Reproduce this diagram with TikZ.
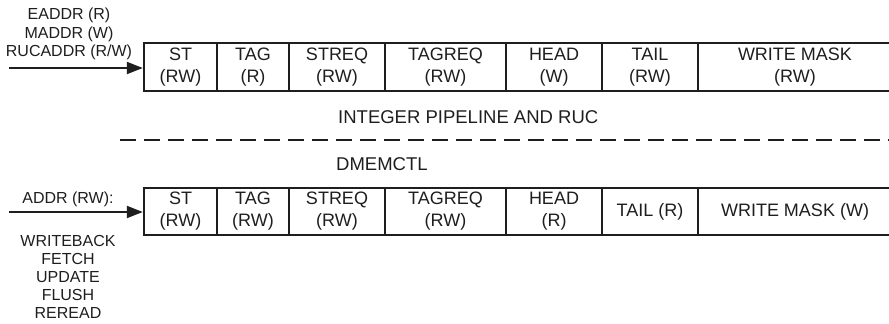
\documentclass[tikz,border=0pt]{standalone}
\usepackage{fontspec}
\setmainfont{Liberation Sans}
\usetikzlibrary{arrows.meta,calc,positioning}
\definecolor{rucInk}{HTML}{1E1E1E}
\tikzset{
 regmap/.style={line join=miter,text=rucInk},
 field/.style={rectangle,draw=rucInk,line width=2.4pt,inner sep=0pt,minimum height=48pt,
   align=center,font=\fontsize{18}{22}\selectfont},
 portlist/.style={align=center,inner sep=0pt,font=\fontsize{16}{18.5}\selectfont},
 sidetitle/.style={anchor=west,inner sep=0pt,font=\fontsize{18.5}{22}\selectfont},
 portarrow/.style={draw=rucInk,line width=2pt,-{Triangle[length=16pt,width=12pt]}},
 divider/.style={draw=rucInk,line width=2.6pt,dash pattern=on 16pt off 8pt}
}
\begin{document}
\begin{tikzpicture}[regmap,x=1pt,y=-1pt]
 \useasboundingbox (0,0) rectangle (889,324);
 % upper register, seen from the pipeline
 \foreach \n/\xa/\w/\txt in {1/144/73/{ST\\(RW)},2/217/72/{TAG\\(R)},3/289/96/{STREQ\\(RW)},
   4/385/121/{TAGREQ\\(RW)},5/506/96/{HEAD\\(W)},6/602/96/{TAIL\\(RW)},7/698/194/{WRITE MASK\\(RW)}}
   {\node[field,minimum width=\w pt] (t\n) at (\xa+\w/2,67) {\txt};}
 \node[portlist] (topports) at (69,34) {EADDR (R)\\MADDR (W)\\RUCADDR (R/W)};
 \coordinate (topin) at (9,68);
 \draw[portarrow] (topin) -- (topin -| t1.west);
 % boundary between the two sides
 \node[sidetitle] (pipe) at (338,117) {INTEGER PIPELINE AND RUC};
 \coordinate (cutL) at (120,140);
 \coordinate (cutR) at (892,140);
 \draw[divider] (cutL) -- (cutR);
 \node[sidetitle] (dmem) at (336,164) {DMEMCTL};
 % lower register, seen from DMEMCTL
 \foreach \n/\xa/\w/\txt in {1/144/73/{ST\\(RW)},2/217/72/{TAG\\(RW)},3/289/96/{STREQ\\(RW)},
   4/385/121/{TAGREQ\\(RW)},5/506/96/{HEAD\\(R)},6/602/96/{TAIL (R)},7/698/194/{WRITE MASK (W)}}
   {\node[field,minimum width=\w pt,minimum height=47pt] (b\n) at (\xa+\w/2,211.5) {\txt};}
 \node[portlist] (addr) at (68,199) {ADDR (RW):};
 \coordinate (botin) at (9,212);
 \draw[portarrow] (botin) -- (botin -| b1.west);
 \node[portlist,font=\fontsize{16}{18}\selectfont] (cmds) at (68,277) {WRITEBACK\\FETCH\\UPDATE\\FLUSH\\REREAD};
\end{tikzpicture}
\end{document}
